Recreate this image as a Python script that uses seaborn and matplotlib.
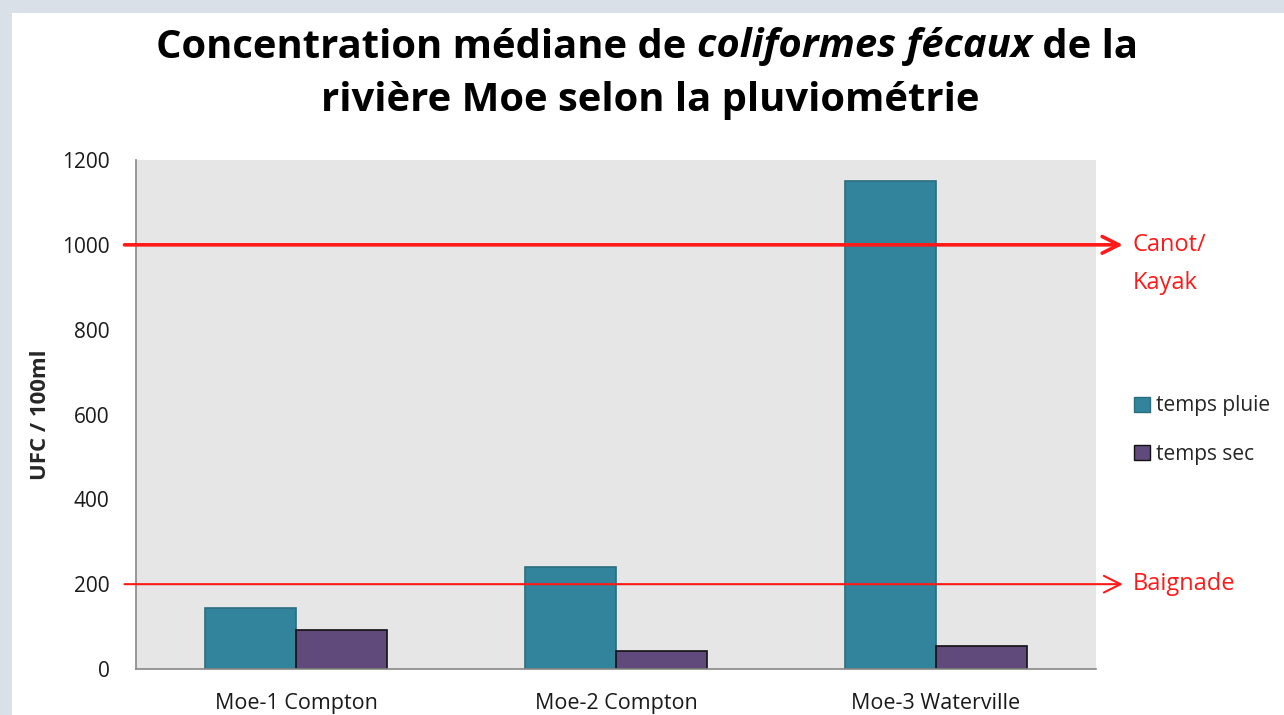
import numpy as np
import pandas as pd
import matplotlib
matplotlib.use("Agg")
import matplotlib.pyplot as plt
import matplotlib.patches as mpatches
import seaborn as sns

# Data
sites = ['Moe-1 Compton', 'Moe-2 Compton', 'Moe-3 Waterville']
temps_pluie = [144, 240, 1150]
temps_sec = [92, 42, 54]
series = ['temps pluie', 'temps sec']
seuils = [1000, 200]
seuil_labels = ['Canot/\nKayak', 'Baignade']

df = pd.DataFrame({
    'site': sites * 2,
    'valeur': temps_pluie + temps_sec,
    'serie': [series[0]] * 3 + [series[1]] * 3,
})

sns.set_style('white')
plt.rcParams['font.family'] = ['Open Sans', 'DejaVu Sans']

fig = plt.figure(figsize=(12.84, 7.15), dpi=100)
fig.patch.set_facecolor('#d9e0e8')
fig.patches.append(mpatches.Rectangle((12 / 1284, 0), 1, 1 - 13 / 715, transform=fig.transFigure,
                                      facecolor='white', edgecolor='none', zorder=-5))

ax = fig.add_axes([136 / 1284, 46 / 715, 960 / 1284, 509 / 715])
ax.set_zorder(2)
ax.set_facecolor('#e6e6e6')

colors = {'temps pluie': '#31849b', 'temps sec': '#604a7b'}
sns.barplot(data=df, x='site', y='valeur', hue='serie', palette=colors, width=0.57,
            saturation=1, ax=ax, zorder=2)
edges = ['#2a6d80', '#111111']
for cont, ec in zip(ax.containers, edges):
    for bar in cont:
        bar.set_edgecolor(ec)
        bar.set_linewidth(1.2)

ax.set_ylim(0, 1200)
ax.set_xlim(-0.5, 2.5)
ax.set_yticks(range(0, 1201, 200))
ax.set_yticklabels([str(v) for v in range(0, 1201, 200)], fontsize=15, color='#1a1a1a')
ax.set_xticks([-0.5, 0.5, 1.5, 2.5], minor=False)
ax.set_xticklabels([])
ax.set_xticks([0, 1, 2], minor=True)
ax.set_xticklabels(sites, minor=True, fontsize=15.5, color='#1a1a1a')
ax.tick_params(axis='x', which='minor', length=0, pad=17)
ax.tick_params(axis='x', which='major', length=7, color='#888888', direction='out')
ax.tick_params(axis='y', length=7, color='#888888', direction='out', pad=12)
ax.set_xlabel('')
ax.set_ylabel('UFC / 100ml', fontsize=16, fontweight='bold', labelpad=8)
for s in ['top', 'right']:
    ax.spines[s].set_visible(False)
for s in ['left', 'bottom']:
    ax.spines[s].set_color('#888888')
    ax.spines[s].set_linewidth(1.2)

# threshold lines with arrows
lws = [2.6, 1.5]
for val, lab, lw in zip(seuils, seuil_labels, lws):
    ax.annotate('', xy=(1.028, val), xytext=(-0.012, val),
                xycoords=('axes fraction', 'data'), textcoords=('axes fraction', 'data'),
                arrowprops=dict(arrowstyle='->', color='#ff1a1a', lw=lw,
                                mutation_scale=30, shrinkA=0, shrinkB=0),
                annotation_clip=False, zorder=5)
    if '\n' in lab:
        # first line centred on the threshold line
        ax.text(1.038, val + 27, lab, transform=ax.get_yaxis_transform(), color='#ff1a1a',
                fontsize=17, va='top', linespacing=1.75, clip_on=False)
    else:
        ax.text(1.038, val, lab, transform=ax.get_yaxis_transform(), color='#ff1a1a',
                fontsize=17, va='center', clip_on=False)

handles = [mpatches.Patch(facecolor=colors[s], edgecolor=ec, label=s) for s, ec in zip(series, edges)]
ax.get_legend().remove()
fig.legend(handles=handles, loc='center left', bbox_to_anchor=(1134 / 1284, 1 - 430 / 715),
           frameon=False, fontsize=15, handlelength=0.75, handleheight=0.75,
           handletextpad=0.3, labelspacing=1.3, borderpad=0, borderaxespad=0)

# title: first line mixes bold and bold-italic
parts = [('Concentration médiane de ', 'normal'), ('coliformes fécaux', 'italic'), (' de la', 'normal')]
tsize = 28.8
r = fig.canvas.get_renderer()
widths = []
for txt, st in parts:
    t = fig.text(0, 0, txt, fontsize=tsize, fontweight='bold', style=st)
    widths.append(t.get_window_extent(r).width)
    t.remove()
x0 = (1294 - sum(widths)) / 2
for (txt, st), w in zip(parts, widths):
    fig.text(x0 / 1284, 1 - 47 / 715, txt, fontsize=tsize, fontweight='bold', style=st,
             ha='left', va='center', color='black')
    x0 += w
fig.text(650 / 1284, 1 - 101 / 715, 'rivière Moe selon la pluviométrie',
         ha='center', va='center', fontsize=tsize, fontweight='bold', color='black')

fig.savefig('out.png', dpi=100, facecolor=fig.get_facecolor())
